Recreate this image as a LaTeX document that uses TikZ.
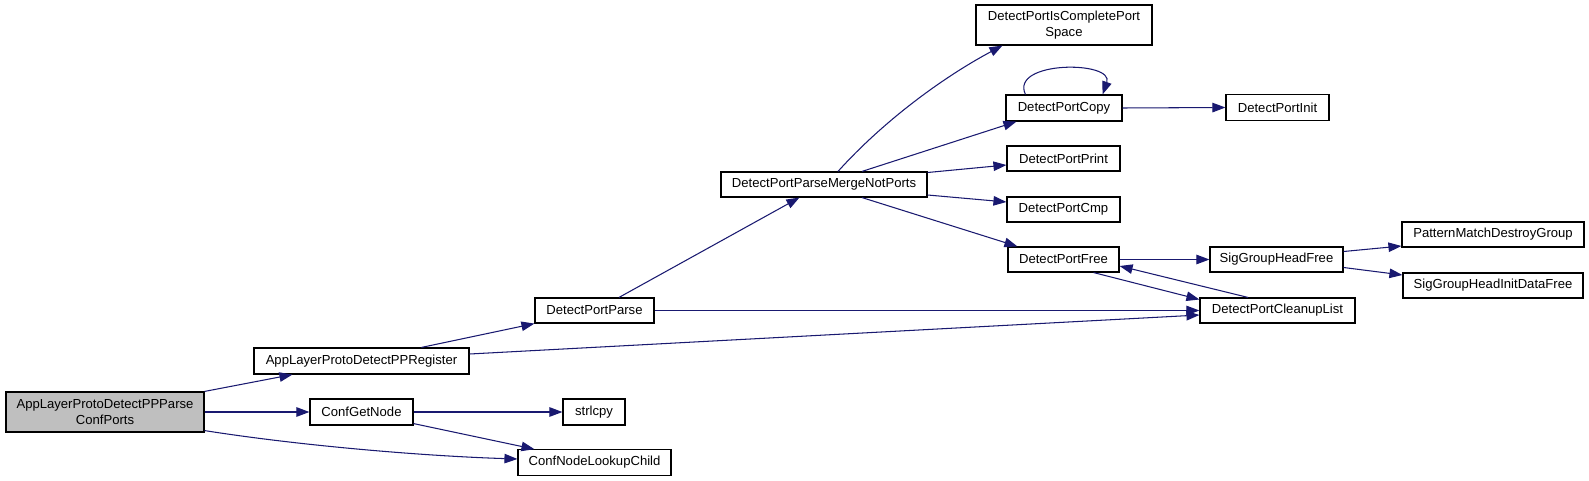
\documentclass[tikz,border=0pt]{standalone}
\usepackage{fontspec}
\setmainfont{Liberation Sans}
\usetikzlibrary{arrows.meta,calc}
\definecolor{edgeblue}{HTML}{191970}
\definecolor{rootgray}{HTML}{BFBFBF}
\begin{document}
\begin{tikzpicture}[x=1pt,y=-1pt,
  box/.style={draw=black,line width=1.15pt,fill=white,inner sep=0pt,align=center,
    font=\fontsize{13.1}{15.5}\selectfont},
  edge/.style={draw=edgeblue,line width=1.05pt,-{Triangle[length=13pt,width=9.5pt]}}]
\useasboundingbox (0,0) rectangle (1589,481);
\fill[white] (0,0) rectangle (1589,481);

\node[box,fill=rootgray,minimum width=198pt,minimum height=40pt] (root) at (105,412) {AppLayerProtoDetectPPParse\\ConfPorts};
\node[box,minimum width=215pt,minimum height=26pt] (reg) at (361.5,361) {AppLayerProtoDetectPPRegister};
\node[box,minimum width=103pt,minimum height=26pt] (cgn) at (361.5,412) {ConfGetNode};
\node[box,minimum width=62pt,minimum height=26pt] (strl) at (594,412) {strlcpy};
\node[box,minimum width=153pt,minimum height=25.5pt] (cnlc) at (594.5,462.5) {ConfNodeLookupChild};
\node[box,minimum width=119pt,minimum height=25pt] (dpp) at (594.5,310.5) {DetectPortParse};
\node[box,minimum width=206pt,minimum height=25pt] (dppm) at (824,184.5) {DetectPortParseMergeNotPorts};
\node[box,minimum width=176pt,minimum height=40pt] (dpics) at (1064,25) {DetectPortIsCompletePort\\Space};
\node[box,minimum width=116pt,minimum height=26pt] (dpcopy) at (1064,108) {DetectPortCopy};
\node[box,minimum width=103pt,minimum height=25.5pt] (dpinit) at (1277.5,107.5) {DetectPortInit};
\node[box,minimum width=113pt,minimum height=25pt] (dpprint) at (1063.5,158.5) {DetectPortPrint};
\node[box,minimum width=113pt,minimum height=25pt] (dpcmp) at (1063.5,209.5) {DetectPortCmp};
\node[box,minimum width=111pt,minimum height=25pt] (dpfree) at (1063.5,259.5) {DetectPortFree};
\node[box,minimum width=133pt,minimum height=25pt] (sghf) at (1276.5,259.5) {SigGroupHeadFree};
\node[box,minimum width=182pt,minimum height=25pt] (pmdg) at (1493,234.5) {PatternMatchDestroyGroup};
\node[box,minimum width=180pt,minimum height=25pt] (sghidf) at (1493,285.5) {SigGroupHeadInitDataFree};
\node[box,minimum width=155pt,minimum height=25pt] (dpcl) at (1277.5,310.5) {DetectPortCleanupList};

% edges
\draw[edge] (root.north east) -- ($(reg.south west)+(39,0)$);
\draw[edge] (root.east) -- (cgn.west);
\draw[edge] ($(root.south east)+(0,-2)$) .. controls +(95,15) and +(-95,-3) .. ($(cnlc.west)+(0,-3.5)$);
\draw[edge] ($(reg.north west)+(168,0)$) -- (dpp.south west);
\draw[edge] ($(reg.east)+(0,-7)$) -- ($(dpcl.west)+(0,4.5)$);
\draw[edge] ($(dpp.north)+(24.5,0)$) -- ($(dppm.south west)+(79,0)$);
\draw[edge] (dpp.east) -- (dpcl.west);
\draw[edge] (cgn.east) -- (strl.west);
\draw[edge] ($(cgn.south east)+(0,-2)$) -- ($(cnlc.north west)+(17,0)$);
\draw[edge] ($(dppm.north)+(14,0)$) .. controls +(45,-50) and +(-60,32) .. ($(dpics.south west)+(27,0)$);
\draw[edge] ($(dppm.north)+(38,0)$) -- ($(dpcopy.south west)+(11,0)$);
\draw[edge] ($(dppm.east)+(0,-12)$) -- ($(dpprint.west)+(0,6.5)$);
\draw[edge] ($(dppm.east)+(0,10.5)$) -- ($(dpcmp.west)+(0,-7.5)$);
\draw[edge] ($(dppm.south)+(38,0)$) -- ($(dpfree.north west)+(10,0)$);
\draw[edge] ($(dpcopy.north west)+(20,0)$) .. controls +(-16,-34) and +(12,-34) .. ($(dpcopy.north east)+(-20,0)$);
\draw[edge] (dpcopy.east) -- (dpinit.west);
\draw[edge] (dpfree.east) -- (sghf.west);
\draw[edge] ($(dpfree.south east)+(-26,0)$) -- ($(dpcl.west)+(0,-11)$);
\draw[edge] ($(dpcl.north)+(-29.5,0)$) -- ($(dpfree.east)+(0,6.5)$);
\draw[edge] ($(sghf.east)+(0,-8)$) -- ($(pmdg.west)+(0,11.5)$);
\draw[edge] ($(sghf.east)+(0,8)$) -- ($(sghidf.west)+(0,-10.5)$);
\end{tikzpicture}
\end{document}
